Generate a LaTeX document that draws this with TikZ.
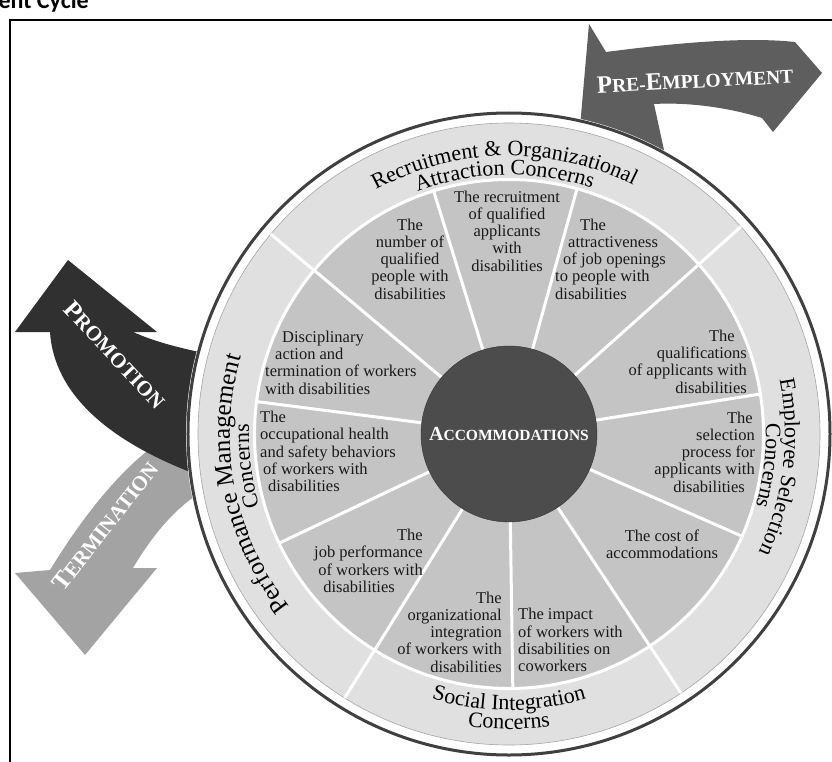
\documentclass[tikz,border=0pt]{standalone}
\usepackage{fontspec}
\setmainfont{Liberation Serif}
\newfontfamily\titlefont{Carlito}
\usetikzlibrary{decorations.text}

\definecolor{segfill}{gray}{0.77}
\definecolor{ringfill}{gray}{0.88}
\definecolor{hubfill}{gray}{0.30}
\definecolor{promofill}{gray}{0.19}
\definecolor{termfill}{gray}{0.64}
\definecolor{prefill}{gray}{0.37}
\definecolor{labeltext}{gray}{0.10}

% fake small caps: big first letter, smaller rest
\newcommand{\scap}[4]{{\fontsize{#1}{#1}\selectfont #3}{\fontsize{#2}{#2}\selectfont #4}}

\tikzset{
  seg/.style={font=\fontsize{16.5}{17.3}\selectfont, text=labeltext, inner sep=0pt},
  spoke/.style={white, line width=3pt},
  ringlabel/.style={decorate, decoration={text along path, text align=center, text color=black}},
  arrowword/.style={text=white, font=\bfseries, inner sep=0pt}
}

\begin{document}
\begin{tikzpicture}[x=1pt, y=1pt]
\useasboundingbox (-509,-327) rectangle (323,434);
\begin{scope}
\clip (-509,-327) rectangle (323,434);

% title line, cut at the top
\node[anchor=base east, inner sep=0pt, font=\titlefont\bfseries\fontsize{24}{24}\selectfont] (title) at (-420,425) {ment Cycle};

% frame
\draw[line width=1.5pt] (-499,-340) -- (-499,414) -- (340,414);

% arrows behind the wheel
\fill[termfill] (-459,-136) -- (-494,-139) -- (-424,-221) -- (-352,-134) -- (-376,-134)
  .. controls (-350,-90) and (-320,-60) .. (-290,-50) -- (-300,20)
  .. controls (-350,0) and (-400,-40) .. (-459,-136) -- cycle;
\fill[promofill] (-459,102) -- (-494,102) -- (-441,174) -- (-352,102) -- (-376,102)
  .. controls (-360,95) and (-340,88) .. (-300,80) -- (-300,-45)
  .. controls (-400,-10) and (-455,40) .. (-459,102) -- cycle;
\fill[prefill] (80,410) -- (97,382) .. controls (151,389) and (231,398) .. (286,392)
  -- (313,361) -- (264,302) -- (253,316) .. controls (221,326) and (181,332) .. (145,330)
  -- (155,284) -- (69,284) -- cycle;

% wheel
\fill[white] (0,0) circle (323);
\draw[black!75, line width=3pt] (0,0) circle (321);
\fill[ringfill] (0,0) circle (311);
\draw[black!35, line width=0.6pt] (0,0) circle (311);
\fill[segfill] (0,0) circle (254);
\draw[spoke] (0,0) circle (254.5);
\foreach \a in {41.8, 140, 238.1, 303.6}
  \draw[spoke] (\a:254) -- (\a:311);
\foreach \i in {0,...,10}
  \draw[spoke] ({74.5+\i*360/11}:88) -- ({74.5+\i*360/11}:254);

\node[circle, fill=hubfill, draw=black!80, minimum size=176pt, inner sep=0pt, text=white, font=\bfseries] (hub) at (0,0) {\scap{20}{15.5}{A}{CCOMMODATIONS}};

% concern labels round the ring
\path[ringlabel, decoration={text={|\fontsize{22}{22}\selectfont|Recruitment {\&} Organizational}}]
  (151:278) arc[start angle=151, end angle=31, radius=278];
\path[ringlabel, decoration={text={|\fontsize{22}{22}\selectfont|Attraction Concerns}}]
  (151:259) arc[start angle=151, end angle=31, radius=259];
\path[ringlabel, decoration={text={|\fontsize{22}{22}\selectfont|Employee Selection}}]
  (53:276) arc[start angle=53, end angle=-67, radius=276];
\path[ringlabel, decoration={text={|\fontsize{22}{22}\selectfont|Concerns}}]
  (53:257) arc[start angle=53, end angle=-67, radius=257];
\path[ringlabel, decoration={text={|\fontsize{22}{22}\selectfont|Social Integration}}]
  (210:276) arc[start angle=210, end angle=330, radius=276];
\path[ringlabel, decoration={text={|\fontsize{22}{22}\selectfont|Concerns}}]
  (210:295) arc[start angle=210, end angle=330, radius=295];
\path[ringlabel, decoration={text={|\fontsize{25}{25}\selectfont|Performance Management}}]
  (251:279) arc[start angle=251, end angle=131, radius=279];
\path[ringlabel, decoration={text={|\fontsize{22}{22}\selectfont|Concerns}}]
  (247:260) arc[start angle=247, end angle=127, radius=260];

% the eleven concerns
\node[seg, align=center] (recruit) at (-2,203) {The recruitment\\of qualified\\applicants\\with\\disabilities};
\node[seg, align=center] (number) at (-99,175) {The\\number of\\qualified\\people with\\disabilities};
\node[seg, align=left, anchor=west] (attract) at (46,175) {\hspace*{25pt}The\\\hspace*{13pt}attractiveness\\\hspace*{8pt}of job openings\\to people with\\disabilities};
\node[seg, align=right, anchor=east] (qualif) at (238,72.5) {The\hspace*{12pt}\\qualifications\hspace*{7pt}\\of applicants with\\disabilities};
\node[seg, align=right, anchor=east] (select) at (246,-18) {The\hspace*{2pt}\\selection\\process for\hspace*{5pt}\\applicants with\hspace*{3pt}\\disabilities\hspace*{10pt}};
\node[seg, align=center] (cost) at (153,-110) {The cost of\\accommodations};
\node[seg, align=left, anchor=west] (impact) at (9,-206) {The impact\\of workers with\\disabilities on\\coworkers};
\node[seg, align=right, anchor=east] (orgint) at (-7,-198) {The\\organizational\\integration\\of workers with\\disabilities};
\node[seg, align=right, anchor=east] (jobperf) at (-86,-127) {The\\job performance\hspace*{5pt}\\of workers with\hspace*{15pt}\\disabilities\hspace*{28pt}};
\node[seg, align=left, anchor=west] (health) at (-249,-17.5) {The\\occupational health\\and safety behaviors\\\hspace*{3pt}of workers with\\\hspace*{8pt}disabilities};
\node[seg, align=left, anchor=west] (discip) at (-244,71.5) {\hspace*{17pt}Disciplinary\\\hspace*{10pt}action and\\termination of workers\\with disabilities};

% arrow words
\node[arrowword, rotate=-47] (promotion) at (-394,79) {\scap{25}{21}{P}{ROMOTION}};
\node[arrowword, rotate=52] (termination) at (-404,-92) {\scap{25}{21}{T}{ERMINATION}};
\node[arrowword, rotate=3] (preemp) at (186,354) {\scap{25}{19.5}{P}{RE-}\scap{25}{19.5}{E}{MPLOYMENT}};
\end{scope}
\end{tikzpicture}
\end{document}
